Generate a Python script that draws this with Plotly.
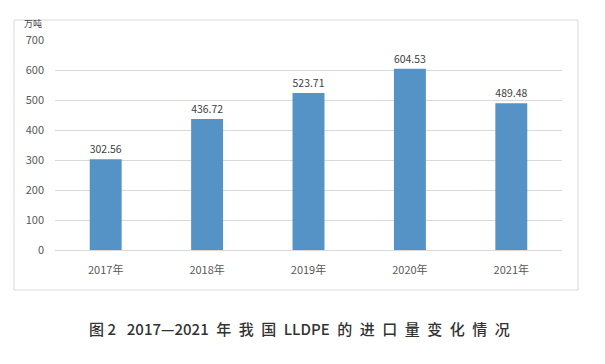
import plotly.graph_objects as go

years = ["2017年", "2018年", "2019年", "2020年", "2021年"]
values = [302.56, 436.72, 523.71, 604.53, 489.48]
y_ticks = [0, 100, 200, 300, 400, 500, 600, 700]

# browser body margin offset
OFF = 8
W, H = 605 - OFF, 364 - OFF
L, R, T, B = 55 - OFF, 43, 40 - OFF, 114
pw = W - L - R
ph = H - T - B

def px_x(x):
    return (x - OFF - L) / pw

def px_y(y):
    return (H - B - (y - OFF)) / ph

font = "Noto Sans CJK SC, Noto Sans, sans-serif"

fig = go.Figure(go.Bar(
    x=years, y=values,
    marker=dict(color="#5592c6", line=dict(width=0)),
    text=[f"{v:.2f}" for v in values],
    textposition="outside",
    textfont=dict(size=11, color="#404040", family=font),
    cliponaxis=False,
))

sp = "\u2002"
title = ("图 2" + sp + " 2017—2021" + sp + sp.join("年我国") + sp + "LLDPE" + sp
         + sp.join("的进口量变化情况"))

fig.update_layout(
    width=W, height=H,
    margin=dict(l=L, r=R, t=T, b=B),
    paper_bgcolor="white", plot_bgcolor="white",
    bargap=0.685,
    showlegend=False,
    font=dict(family=font),
    xaxis=dict(showgrid=False, showline=False, ticks="",
               tickfont=dict(size=11, color="#595959"),
               ticklabelstandoff=12),
    yaxis=dict(range=[0, 700], tickvals=y_ticks, showgrid=True,
               gridcolor="#d9d9d9", gridwidth=1, zeroline=True,
               zerolinecolor="#d9d9d9", zerolinewidth=1, showline=False,
               tickfont=dict(size=11, color="#595959"),
               ticklabelstandoff=10),
    shapes=[dict(type="rect", xref="paper", yref="paper",
                 x0=px_x(14), x1=px_x(578), y0=px_y(290), y1=px_y(20),
                 line=dict(color="#d9d9d9", width=1), fillcolor="rgba(0,0,0,0)",
                 layer="below")],
    annotations=[
        dict(text="万吨", xref="paper", yref="paper", x=px_x(33), y=px_y(31),
             showarrow=False, font=dict(size=9, color="#404040"),
             xanchor="center", yanchor="bottom", borderpad=0),
        dict(text=title,
             xref="paper", yref="paper", x=px_x(299), y=px_y(328),
             showarrow=False, font=dict(size=15, color="#333333",
                                        family="Noto Sans CJK SC, sans-serif", weight=500),
             xanchor="center", yanchor="middle"),
    ],
)

fig.write_html("out.html")
